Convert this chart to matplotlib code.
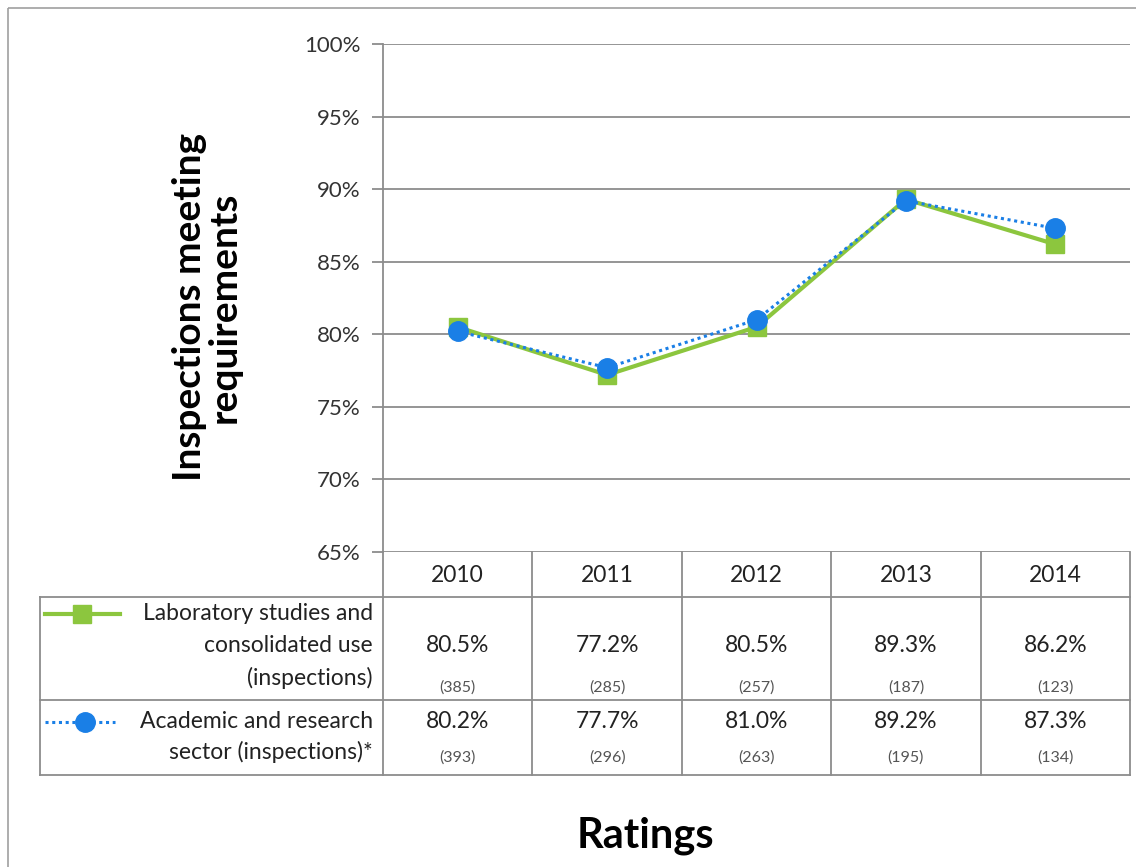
import matplotlib
matplotlib.use("Agg")
import matplotlib.pyplot as plt
from matplotlib.patches import Rectangle

# --- data ---
years = ["2010", "2011", "2012", "2013", "2014"]
lab_pct = [80.5, 77.2, 80.5, 89.3, 86.2]
lab_n = [385, 285, 257, 187, 123]
acad_pct = [80.2, 77.7, 81.0, 89.2, 87.3]
acad_n = [393, 296, 263, 195, 134]
lab_label = "Laboratory studies and\nconsolidated use\n(inspections)"
acad_label = "Academic and research\nsector (inspections)*"
y_ticks = [65, 70, 75, 80, 85, 90, 95, 100]

green = "#8CC63E"
blue = "#1A7FE6"
grid_c = "#8c8c8c"
txt_c = "#222222"
plt.rcParams["font.family"] = ["Lato", "DejaVu Sans"]

W, H = 1136, 867
fig = plt.figure(figsize=(W / 100, H / 100), dpi=100)

def px_axes(x0, y0, x1, y1):
    return fig.add_axes([x0 / W, 1 - y1 / H, (x1 - x0) / W, (y1 - y0) / H])

# --- main plot ---
left, right, top, bottom = 383, 1130, 44, 552
ax = px_axes(left, top, right, bottom)
x = list(range(len(years)))
ax.plot(x, lab_pct, color=green, lw=3, marker="s", ms=13, zorder=3)
ax.plot(x, acad_pct, color=blue, lw=2.2, ls=(0, (1, 1.2)), marker="o", ms=14, zorder=4)
ax.set_xlim(-0.5, len(years) - 0.5)
ax.set_ylim(65, 100)
ax.set_yticks(y_ticks)
ax.set_yticklabels([f"{t}%" for t in y_ticks], fontsize=16, color="#333333")
ax.set_xticks([])
ax.yaxis.grid(True, color=grid_c, lw=1.3)
ax.set_axisbelow(True)
for s in ["top", "right", "bottom"]:
    ax.spines[s].set_visible(False)
ax.spines["left"].set_color(grid_c)
ax.spines["left"].set_linewidth(1.3)
ax.tick_params(axis="y", length=8, width=1.3, color=grid_c, pad=8)

# --- overlay for table / frame / titles ---
ov = fig.add_axes([0, 0, 1, 1])
ov.set_xlim(0, W)
ov.set_ylim(H, 0)
ov.axis("off")
ov.patch.set_alpha(0)

ov.add_patch(Rectangle((8, 8), W + 20, H + 20, fill=False, ec="#a0a0a0", lw=1.2))

col_w = (right - left) / len(years)
cols = [left + i * col_w for i in range(len(years) + 1)]
tl = 40
r0, r1, r2, r3 = 552, 597, 700, 775
lc = dict(color=grid_c, lw=1.3)
for yy in (r1, r2, r3):
    ov.plot([tl, right], [yy, yy], **lc)
ov.plot([tl, tl], [r1, r3], **lc)
for cx in cols:
    ov.plot([cx, cx], [r0, r3], **lc)

for i, yr in enumerate(years):
    cx = left + (i + 0.5) * col_w
    ov.text(cx, 575, yr, ha="center", va="center", fontsize=16.5, color=txt_c)
    ov.text(cx, 646, f"{lab_pct[i]:.1f}%", ha="center", va="center", fontsize=16.5, color=txt_c)
    ov.text(cx, 688, f"({lab_n[i]})", ha="center", va="center", fontsize=11.5, color="#555555")
    ov.text(cx, 721, f"{acad_pct[i]:.1f}%", ha="center", va="center", fontsize=16.5, color=txt_c)
    ov.text(cx, 758, f"({acad_n[i]})", ha="center", va="center", fontsize=11.5, color="#555555")

# legend keys
ov.plot([45, 120], [614, 614], color=green, lw=3)
ov.plot([82], [614], marker="s", ms=13, color=green)
ov.plot([45, 115], [722, 722], color=blue, lw=2.2, ls=(0, (1, 1.2)))
ov.plot([85], [722], marker="o", ms=14, color=blue)

ov.text(373, 646, lab_label, ha="right", va="center", fontsize=16.5, color=txt_c,
        linespacing=1.65, multialignment="right")
ov.text(373, 737, acad_label, ha="right", va="center", fontsize=16.5, color=txt_c,
        linespacing=1.45, multialignment="right")

ov.text(207, 307, "Inspections meeting\nrequirements", rotation=90, ha="center", va="center",
        fontsize=28, fontweight="bold", color="#000000", linespacing=1.0)
ov.text(645, 836, "Ratings", ha="center", va="center", fontsize=30, fontweight="bold", color="#000000")

fig.savefig("out.png", dpi=100)
